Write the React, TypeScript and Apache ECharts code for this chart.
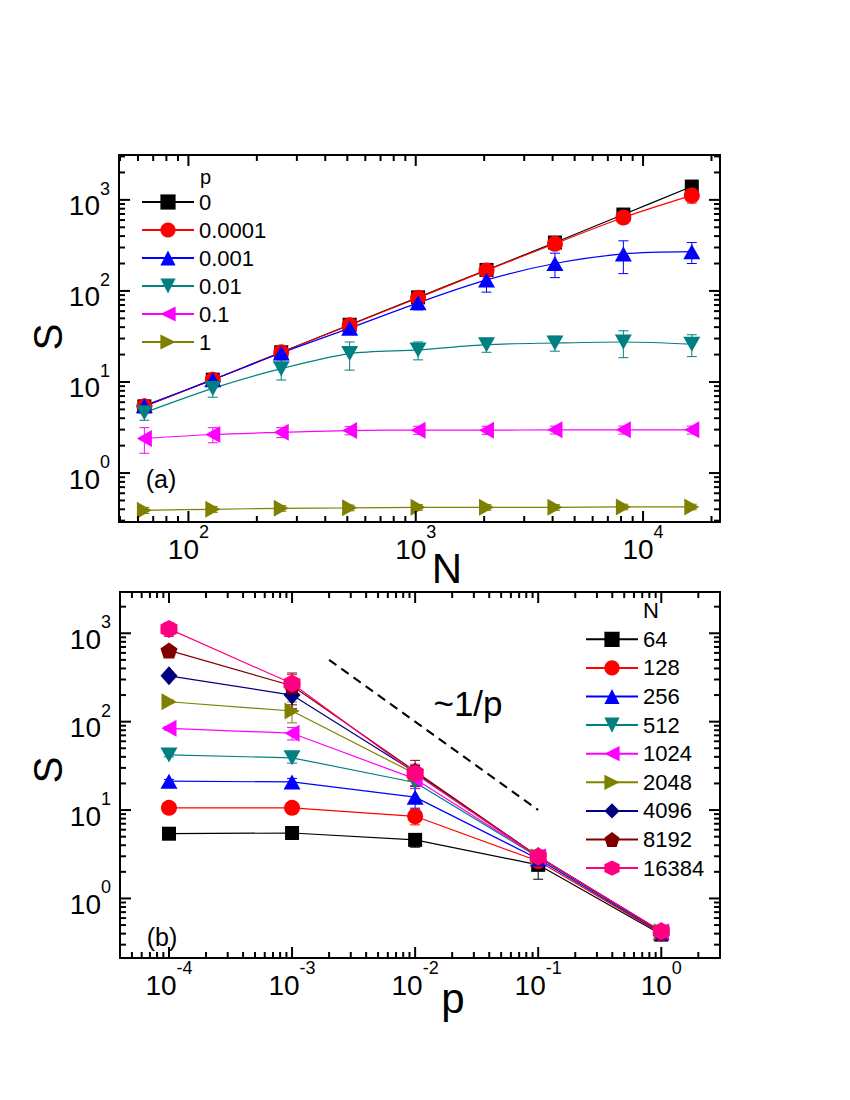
import React, { useEffect, useRef } from 'react';
import * as echarts from 'echarts';

// ---------------- data ----------------
const N_VALUES = [64, 128, 256, 512, 1024, 2048, 4096, 8192, 16384];
const N_NAMES = ['64', '128', '256', '512', '1024', '2048', '4096', '8192', '16384'];
const P_NAMES = ['0', '0.0001', '0.001', '0.01', '0.1', '1'];
const P_VALUES = [0, 0.0001, 0.001, 0.01, 0.1, 1];

// S(N) for each p (panel a); panel b shows the same data read per N
const S_P0 = [5.4, 10.6, 21.2, 42.5, 85, 170, 340, 690, 1400];
const S_P1EM4 = [5.4, 10.6, 21.2, 42, 84, 168, 330, 640, 1120];
const S_P1EM3 = [5.5, 10.6, 20.8, 39, 74, 132, 200, 255, 270];
const S_P1EM2 = [4.6, 8.5, 14, 20.5, 22.5, 25.7, 26.8, 27.5, 26];
const S_P1EM1 = [2.4, 2.65, 2.8, 2.93, 2.96, 2.96, 2.98, 2.98, 2.98];
const S_P1 = [0.39, 0.4, 0.41, 0.415, 0.42, 0.42, 0.42, 0.425, 0.425];

// error bar half widths
const E_P0 = [0.2, 0.4, 0.8, 1.5, 3, 6, 12, 25, 50];
const E_P1EM4 = [0.3, 0.5, 1, 2, 4, 8, 20, 40, 200];
const E_P1EM3 = [0.8, 1.5, 2, 5, 12, 35, 60, 100, 70];
const E_P1EM2 = [0.8, 1.7, 3.5, 7, 5, 4.5, 5, 9, 7];
const E_P1EM1 = [0.75, 0.5, 0.35, 0.3, 0.3, 0.3, 0.3, 0.3, 0.3];
const E_P1 = [0.03, 0.03, 0.03, 0.03, 0.03, 0.03, 0.03, 0.03, 0.03];

const S_BY_P = [S_P0, S_P1EM4, S_P1EM3, S_P1EM2, S_P1EM1, S_P1];
const E_BY_P = [E_P0, E_P1EM4, E_P1EM3, E_P1EM2, E_P1EM1, E_P1];

// guide line ~1/p
const GUIDE_P = [0.002, 0.1];
const GUIDE_S = [500, 10];

// axis ranges and ticks
const TOP_X_RANGE = [49.5, 21800];
const TOP_Y_RANGE = [0.29, 3110];
const BOT_X_RANGE = [4e-5, 3.0];
const BOT_Y_RANGE = [0.212, 2930];
const TOP_X_MAJOR = [100, 1000, 10000];
const TOP_Y_MAJOR = [1, 10, 100, 1000];
const BOT_X_MAJOR = [1e-4, 1e-3, 1e-2, 1e-1, 1];
const BOT_Y_MAJOR = [1, 10, 100, 1000];

// ---------------- styles ----------------
const FONT = '"Liberation Sans", Arial, Helvetica, sans-serif';
const PENTAGON = 'path://M50 0 L97.55 34.55 L79.39 90.45 L20.61 90.45 L2.45 34.55 Z';
const HEXAGON = 'path://M50 0 L93.3 25 L93.3 75 L50 100 L6.7 75 L6.7 25 Z';

const MK = {
  square: { symbol: 'rect', size: 14, rotate: 0 },
  circle: { symbol: 'circle', size: 16, rotate: 0 },
  up: { symbol: 'triangle', size: [17, 15], rotate: 0 },
  down: { symbol: 'triangle', size: [17, 15], rotate: 180 },
  left: { symbol: 'triangle', size: [17, 15], rotate: 90 },
  right: { symbol: 'triangle', size: [17, 15], rotate: -90 },
  diamond: { symbol: 'diamond', size: [17, 19], rotate: 0 },
  pentagon: { symbol: PENTAGON, size: [17, 16], rotate: 0 },
  hexagon: { symbol: HEXAGON, size: [17, 18], rotate: 0 },
};

const TOP_STYLE = [
  { color: '#000000', mk: MK.square },
  { color: '#ff0000', mk: MK.circle },
  { color: '#0000ff', mk: MK.up },
  { color: '#008080', mk: MK.down },
  { color: '#ff00ff', mk: MK.left },
  { color: '#808000', mk: MK.right },
];
const BOT_STYLE = [
  { color: '#000000', mk: MK.square },
  { color: '#ff0000', mk: MK.circle },
  { color: '#0000ff', mk: MK.up },
  { color: '#008080', mk: MK.down },
  { color: '#ff00ff', mk: MK.left },
  { color: '#808000', mk: MK.right },
  { color: '#000080', mk: MK.diamond },
  { color: '#800000', mk: MK.pentagon },
  { color: '#ff0080', mk: MK.hexagon },
];

const MAJOR_LEN = 11;
const MINOR_LEN = 6;
const TICK_W = 2;

function minorTicks(range: number[]): number[] {
  const out: number[] = [];
  const lo = Math.floor(Math.log10(range[0]));
  const hi = Math.ceil(Math.log10(range[1]));
  for (let d = lo; d <= hi; d++) {
    for (let k = 2; k <= 9; k++) {
      const v = parseFloat((k * Math.pow(10, d)).toPrecision(6));
      if (v > range[0] && v < range[1]) out.push(v);
    }
  }
  return out;
}

const labelFormatter = (v: number) => {
  const e = Math.round(Math.log10(v));
  return `{b|10}{s|${e}}`;
};
const RICH = {
  b: { fontSize: 28, lineHeight: 40, verticalAlign: 'bottom', fontFamily: FONT, color: '#000' },
  s: { fontSize: 18, lineHeight: 16, verticalAlign: 'top', fontFamily: FONT, color: '#000' },
};

function makeAxis(dim: 'x' | 'y', gridIndex: number, range: number[], major: number[]) {
  return {
    type: 'log',
    logBase: 10,
    gridIndex,
    position: dim === 'x' ? 'bottom' : 'left',
    min: range[0],
    max: range[1],
    axisLine: { show: false, onZero: false },
    axisTick: { show: false },
    minorTick: { show: false },
    splitLine: { show: false },
    splitArea: { show: false },
    axisLabel: {
      show: true,
      customValues: major,
      formatter: labelFormatter,
      rich: RICH,
      margin: dim === 'x' ? 1 : 9,
      color: '#000',
    },
  };
}

// inward tick marks on all four sides, placed through the axis scales
function tickSeries(ai: number, xRange: number[], yRange: number[], xMajor: number[], yMajor: number[]) {
  const items: any[] = [];
  const xTicks = [...xMajor.map((v) => [v, MAJOR_LEN]), ...minorTicks(xRange).map((v) => [v, MINOR_LEN])];
  const yTicks = [...yMajor.map((v) => [v, MAJOR_LEN]), ...minorTicks(yRange).map((v) => [v, MINOR_LEN])];
  xTicks.forEach(([v, len]) => {
    items.push({ value: [v, yRange[0]], symbolSize: [TICK_W, len], symbolOffset: [0, -len / 2] });
    items.push({ value: [v, yRange[1]], symbolSize: [TICK_W, len], symbolOffset: [0, len / 2] });
  });
  yTicks.forEach(([v, len]) => {
    items.push({ value: [xRange[0], v], symbolSize: [len, TICK_W], symbolOffset: [len / 2, 0] });
    items.push({ value: [xRange[1], v], symbolSize: [len, TICK_W], symbolOffset: [-len / 2, 0] });
  });
  return {
    type: 'scatter',
    xAxisIndex: ai,
    yAxisIndex: ai,
    symbol: 'rect',
    itemStyle: { color: '#000', opacity: 1 },
    silent: true,
    clip: false,
    z: 4,
    emphasis: { disabled: true },
    data: items,
  };
}

function errorSeries(points: number[][], color: string, ai: number) {
  return {
    type: 'custom',
    xAxisIndex: ai,
    yAxisIndex: ai,
    silent: true,
    z: 2,
    encode: { x: 0, y: 1 },
    data: points,
    renderItem: (_params: any, api: any) => {
      const x = api.value(0);
      const y = api.value(1);
      const e = api.value(2);
      const top = api.coord([x, y + e]);
      const bot = api.coord([x, Math.max(y - e, y * 0.05)]);
      const hw = 5;
      const st = { stroke: color, lineWidth: 1 };
      return {
        type: 'group',
        children: [
          { type: 'line', shape: { x1: top[0], y1: top[1], x2: bot[0], y2: bot[1] }, style: st },
          { type: 'line', shape: { x1: top[0] - hw, y1: top[1], x2: top[0] + hw, y2: top[1] }, style: st },
          { type: 'line', shape: { x1: bot[0] - hw, y1: bot[1], x2: bot[0] + hw, y2: bot[1] }, style: st },
        ],
      };
    },
  };
}

function buildOption() {
  const series: any[] = [];
  // panel (a)
  P_NAMES.forEach((name, k) => {
    const st = TOP_STYLE[k];
    const pts = N_VALUES.map((n, i) => [n, S_BY_P[k][i]]);
    series.push(errorSeries(N_VALUES.map((n, i) => [n, S_BY_P[k][i], E_BY_P[k][i]]), st.color, 0));
    series.push({
      type: 'line',
      name,
      xAxisIndex: 0,
      yAxisIndex: 0,
      data: pts,
      smooth: 0.3,
      symbol: st.mk.symbol,
      symbolSize: st.mk.size,
      symbolRotate: st.mk.rotate,
      lineStyle: { color: st.color, width: 1.2 },
      itemStyle: { color: st.color, borderWidth: 0 },
      emphasis: { disabled: true },
      z: 3,
    });
  });
  // panel (b)
  const pList = P_VALUES.slice(1);
  N_NAMES.forEach((name, i) => {
    const st = BOT_STYLE[i];
    const pts = pList.map((p, j) => [p, S_BY_P[j + 1][i]]);
    series.push(errorSeries(pList.map((p, j) => [p, S_BY_P[j + 1][i], E_BY_P[j + 1][i]]), st.color, 1));
    series.push({
      type: 'line',
      name,
      xAxisIndex: 1,
      yAxisIndex: 1,
      data: pts,
      symbol: st.mk.symbol,
      symbolSize: st.mk.size,
      symbolRotate: st.mk.rotate,
      lineStyle: { color: st.color, width: 1.2 },
      itemStyle: { color: st.color, borderWidth: 0 },
      emphasis: { disabled: true },
      z: 3,
    });
  });
  series.push({
    type: 'line',
    name: 'guide',
    xAxisIndex: 1,
    yAxisIndex: 1,
    data: GUIDE_P.map((p, i) => [p, GUIDE_S[i]]),
    symbol: 'none',
    lineStyle: { color: '#000', width: 2, type: [9, 6] },
    emphasis: { disabled: true },
    silent: true,
    z: 3,
  });
  series.push(tickSeries(0, TOP_X_RANGE, TOP_Y_RANGE, TOP_X_MAJOR, TOP_Y_MAJOR));
  series.push(tickSeries(1, BOT_X_RANGE, BOT_Y_RANGE, BOT_X_MAJOR, BOT_Y_MAJOR));

  const legendCommon = {
    orient: 'vertical',
    padding: 0,
    itemWidth: 52,
    itemHeight: 19,
    selectedMode: false,
    textStyle: { fontSize: 22, fontFamily: FONT, color: '#000' },
  };

  const textEl = (text: string, x: number, y: number, size: number, extra: any = {}) => ({
    type: 'text',
    x,
    y,
    silent: true,
    ...extra,
    style: {
      text,
      fontSize: size,
      fontFamily: FONT,
      fill: '#000',
      align: extra.align || 'center',
      verticalAlign: 'middle',
    },
  });

  const gridBase = {
    show: true,
    borderColor: '#000',
    borderWidth: 2,
    backgroundColor: 'transparent',
    containLabel: false,
  };

  return {
    animation: false,
    backgroundColor: '#ffffff',
    grid: [
      { ...gridBase, left: 119, top: 155, width: 601, height: 367 },
      { ...gridBase, left: 120, top: 592, width: 600, height: 366 },
    ],
    xAxis: [makeAxis('x', 0, TOP_X_RANGE, TOP_X_MAJOR), makeAxis('x', 1, BOT_X_RANGE, BOT_X_MAJOR)],
    yAxis: [makeAxis('y', 0, TOP_Y_RANGE, TOP_Y_MAJOR), makeAxis('y', 1, BOT_Y_RANGE, BOT_Y_MAJOR)],
    legend: [
      { ...legendCommon, left: 141, top: 191, itemGap: 6, data: P_NAMES },
      { ...legendCommon, left: 585, top: 628.3, itemGap: 6.6, data: N_NAMES },
    ],
    graphic: [
      textEl('p', 200, 177, 20, { align: 'left' }),
      textEl('N', 643, 610, 22, { align: 'left' }),
      textEl('(a)', 161, 479, 25),
      textEl('(b)', 162, 937, 25),
      textEl('~1/p', 468, 703, 35),
      textEl('S', 48, 337, 40, { rotation: Math.PI / 2 }),
      textEl('S', 48, 770, 40, { rotation: Math.PI / 2 }),
      textEl('N', 447, 568, 42),
      textEl('p', 453, 998, 42),
    ],
    series,
  };
}

export default function App() {
  const ref = useRef<HTMLDivElement>(null);
  useEffect(() => {
    if (!ref.current) return;
    const chart = echarts.init(ref.current, undefined, { renderer: 'svg' });
    chart.setOption(buildOption() as any);
    return () => chart.dispose();
  }, []);
  return (
    <div
      ref={ref}
      style={{ position: 'absolute', left: 0, top: 0, width: 850, height: 1100, background: '#fff' }}
    />
  );
}
